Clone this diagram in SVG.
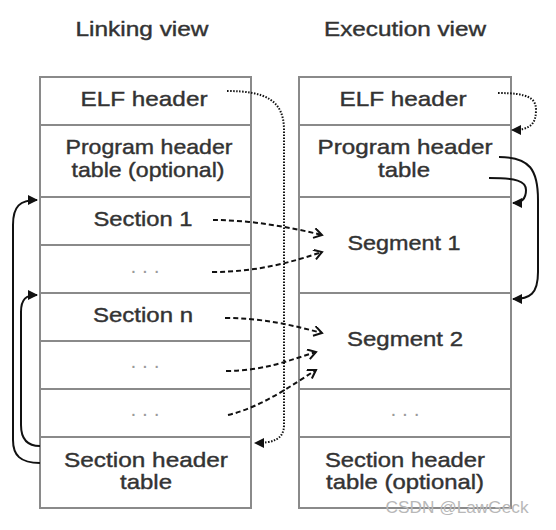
<svg xmlns="http://www.w3.org/2000/svg" width="556" height="530" viewBox="0 0 556 530">
<defs>
<style>
.t{font-family:"Liberation Sans",Arial,sans-serif;font-size:21px;fill:#333;stroke:#333;stroke-width:0.4;text-anchor:middle}
.h{font-family:"Liberation Sans",Arial,sans-serif;font-size:20px;fill:#333;stroke:#333;stroke-width:0.4;text-anchor:middle}
.d{font-family:"Liberation Sans",Arial,sans-serif;font-size:21px;fill:#9a9a9a;text-anchor:middle}
.box{fill:#fff;stroke:#8a8a8a;stroke-width:2}
.div{stroke:#8a8a8a;stroke-width:2}
.dash{fill:none;stroke:#111;stroke-width:2;stroke-dasharray:5,3}
.dot{fill:none;stroke:#111;stroke-width:2;stroke-dasharray:1.5,1.5}
.sol{fill:none;stroke:#111;stroke-width:2}
</style>
<marker id="open" markerUnits="userSpaceOnUse" markerWidth="12" markerHeight="12" refX="9" refY="5" orient="auto">
<path d="M1,0 L9,5 L1,10" fill="none" stroke="#111" stroke-width="2"/>
</marker>
<marker id="fill" markerUnits="userSpaceOnUse" markerWidth="12" markerHeight="12" refX="9" refY="5" orient="auto">
<path d="M0,0 L10,5 L0,10 Z" fill="#111"/>
</marker>
</defs>
<rect width="556" height="530" fill="#fff"/>
<text class="h" x="142" y="36" textLength="133" lengthAdjust="spacingAndGlyphs">Linking view</text>
<text class="h" x="405" y="36" textLength="162" lengthAdjust="spacingAndGlyphs">Execution view</text>
<g id="linking">
<rect class="box" x="40" y="77" width="211" height="431"/>
<line class="div" x1="40" y1="125" x2="251" y2="125"/>
<line class="div" x1="40" y1="197" x2="251" y2="197"/>
<line class="div" x1="40" y1="245" x2="251" y2="245"/>
<line class="div" x1="40" y1="293" x2="251" y2="293"/>
<line class="div" x1="40" y1="341" x2="251" y2="341"/>
<line class="div" x1="40" y1="389" x2="251" y2="389"/>
<line class="div" x1="40" y1="437" x2="251" y2="437"/>
</g>
<g id="l-elf"><text class="t" x="144" y="106" textLength="127" lengthAdjust="spacingAndGlyphs">ELF header</text></g>
<g id="l-pht"><text class="t" x="149" y="154" textLength="167" lengthAdjust="spacingAndGlyphs">Program header</text><text class="t" x="148" y="177" textLength="153" lengthAdjust="spacingAndGlyphs">table (optional)</text></g>
<g id="l-s1"><text class="t" x="143" y="226" textLength="99" lengthAdjust="spacingAndGlyphs">Section 1</text></g>
<g id="l-d1"><text class="d" x="145" y="273">. . .</text></g>
<g id="l-sn"><text class="t" x="143" y="322" textLength="100" lengthAdjust="spacingAndGlyphs">Section n</text></g>
<g id="l-d2"><text class="d" x="145" y="368">. . .</text></g>
<g id="l-d3"><text class="d" x="145" y="416">. . .</text></g>
<g id="l-sht"><text class="t" x="146" y="467" textLength="164" lengthAdjust="spacingAndGlyphs">Section header</text><text class="t" x="146" y="489" textLength="52" lengthAdjust="spacingAndGlyphs">table</text></g>
<g id="execution">
<rect class="box" x="299" y="77" width="212" height="431"/>
<line class="div" x1="299" y1="125" x2="511" y2="125"/>
<line class="div" x1="299" y1="197" x2="511" y2="197"/>
<line class="div" x1="299" y1="293" x2="511" y2="293"/>
<line class="div" x1="299" y1="389" x2="511" y2="389"/>
<line class="div" x1="299" y1="437" x2="511" y2="437"/>
</g>
<g id="r-elf"><text class="t" x="403" y="106" textLength="127" lengthAdjust="spacingAndGlyphs">ELF header</text></g>
<g id="r-pht"><text class="t" x="405" y="154" textLength="175" lengthAdjust="spacingAndGlyphs">Program header</text><text class="t" x="404" y="177" textLength="52" lengthAdjust="spacingAndGlyphs">table</text></g>
<g id="r-seg1"><text class="t" x="404" y="250" textLength="113" lengthAdjust="spacingAndGlyphs">Segment 1</text></g>
<g id="r-seg2"><text class="t" x="405" y="346" textLength="116" lengthAdjust="spacingAndGlyphs">Segment 2</text></g>
<g id="r-d"><text class="d" x="405" y="416">. . .</text></g>
<g id="r-sht"><text class="t" x="405" y="467" textLength="160" lengthAdjust="spacingAndGlyphs">Section header</text><text class="t" x="405" y="489" textLength="158" lengthAdjust="spacingAndGlyphs">table (optional)</text></g>
<g id="connectors">
<path class="dot" d="M227,91 C265,91 284,100 284,130 L284,425 C284,440 272,443 255,443" marker-end="url(#fill)"/>
<path class="dot" d="M498,93 C528,93 536,98 536,110 C536,124 530,130 512,130" marker-end="url(#fill)"/>
<path class="sol" d="M499,157 C530,157 538,170 538,200 L538,272 C538,294 530,299 513,299" marker-end="url(#fill)"/>
<path class="sol" d="M489,178 C516,178 526,181 526,190 C526,200 520,203 513,203" marker-end="url(#fill)"/>
<path class="sol" d="M40,463 C20,463 13,455 13,440 L13,225 C13,206 20,200 37,200" marker-end="url(#fill)"/>
<path class="sol" d="M40,446 C28,446 21,440 21,425 L21,312 C21,299 26,295 37,295" marker-end="url(#fill)"/>
<path class="dash" d="M213,220 C250,220 290,227 322,235" marker-end="url(#open)"/>
<path class="dash" d="M212,272 C258,272 292,262 322,252" marker-end="url(#open)"/>
<path class="dash" d="M225,318 C262,318 292,325 322,333" marker-end="url(#open)"/>
<path class="dash" d="M226,371 C264,371 290,360 316,352" marker-end="url(#open)"/>
<path class="dash" d="M228,415 C262,407 292,385 316,370" marker-end="url(#open)"/>
</g>
<text x="457" y="513" style="font-family:'Liberation Sans',Arial,sans-serif;font-size:16px;fill:#b8b8b8;text-anchor:middle" textLength="143" lengthAdjust="spacingAndGlyphs">CSDN @LawGeck</text>
</svg>
